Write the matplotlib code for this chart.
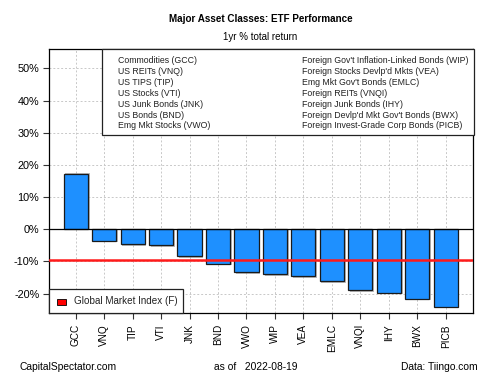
import matplotlib
matplotlib.use("Agg")
import matplotlib.pyplot as plt
import numpy as np

plt.rcParams['font.family'] = ['Liberation Sans', 'DejaVu Sans']

# data
tickers = ['GCC', 'VNQ', 'TIP', 'VTI', 'JNK', 'BND', 'VWO', 'WIP', 'VEA',
           'EMLC', 'VNQI', 'IHY', 'BWX', 'PICB']
returns = [17.1, -3.6, -4.7, -5.0, -8.3, -10.7, -13.3, -14.0, -14.6,
           -16.1, -19.0, -19.7, -21.5, -24.1]
global_index = -9.5

left_names = ['Commodities (GCC)', 'US REITs (VNQ)', 'US TIPS (TIP)',
              'US Stocks (VTI)', 'US Junk Bonds (JNK)', 'US Bonds (BND)',
              'Emg Mkt Stocks (VWO)']
right_names = ["Foreign Gov't Inflation-Linked Bonds (WIP)",
               "Foreign Stocks Devlp'd Mkts (VEA)",
               "Emg Mkt Gov't Bonds (EMLC)",
               "Foreign REITs (VNQI)",
               "Foreign Junk Bonds (IHY)",
               "Foreign Devlp'd Mkt Gov't Bonds (BWX)",
               "Foreign Invest-Grade Corp Bonds (PICB)"]
yticks = [-20, -10, 0, 10, 20, 30, 40, 50]

fig = plt.figure(figsize=(5, 3.75), dpi=100)
ax = fig.add_axes([49 / 500, 1 - 313 / 375, 424 / 500, 264 / 375])

x = np.arange(len(tickers))
# grid behind
for xi in x:
    ax.axvline(xi, color='#c8c8c8', lw=0.7, ls=(0, (2, 2)), zorder=0)
for yt in yticks:
    ax.axhline(yt, color='#c8c8c8', lw=0.7, ls=(0, (2, 2)), zorder=0)

# shadows
vals = np.array(returns)
ax.bar(x + 0.06, vals + np.sign(vals) * 0.5, width=0.85, color='#8c8c8c',
       alpha=0.6, zorder=1, linewidth=0)
ax.bar(x, vals, width=0.85, color='#1e90ff', edgecolor='#1a1a1a',
       linewidth=0.9, zorder=2)
ax.axhline(0, color='black', lw=0.9, zorder=3)
ax.axhline(global_index, color='#ff1a1a', lw=1.8, zorder=4)

ax.set_xlim(-0.94, len(tickers) - 0.04)
ax.set_ylim(-26, 56)
ax.set_yticks(yticks)
ax.set_yticklabels([f'{v}%' for v in yticks], fontsize=7.8)
ax.set_xticks(x)
ax.set_xticklabels(tickers, rotation=90, fontsize=7.2)
ax.tick_params(axis='both', length=4, width=0.8, color='#333333', pad=3)
ax.tick_params(axis='x', pad=4)
for sp in ax.spines.values():
    sp.set_linewidth(0.9)

# top legend box
box_l, box_b = 102 / 500, 1 - 135 / 375
fig.patches.append(plt.Rectangle((box_l, box_b), 473.5 / 500 - box_l,
                                 1 - 49.3 / 375 - box_b, transform=fig.transFigure,
                                 facecolor='white', edgecolor='#222222',
                                 linewidth=0.9, zorder=5))
for i, (ln, rn) in enumerate(zip(left_names, right_names)):
    yy = 1 - (60.5 + i * 10.9) / 375
    fig.text(117.5 / 500, yy, ln, fontsize=6.3, va='center', color='#222222', zorder=6)
    fig.text(302 / 500, yy, rn, fontsize=6.3, va='center', color='#222222', zorder=6)

# bottom legend
fig.patches.append(plt.Rectangle((49.3 / 500, 1 - 313 / 375), 134 / 500,
                                 24 / 375, transform=fig.transFigure,
                                 facecolor='white', edgecolor='#222222',
                                 linewidth=0.9, zorder=5))
fig.patches.append(plt.Rectangle((57 / 500, 1 - 304.5 / 375), 8.5 / 500, 5.5 / 375,
                                 transform=fig.transFigure, facecolor='#ff0000',
                                 edgecolor='black', linewidth=0.6, zorder=6))
fig.text(74 / 500, 1 - 301 / 375, 'Global Market Index (F)', fontsize=7.1,
         va='center', color='#222222', zorder=6)

fig.text(0.522, 1 - 19 / 375, 'Major Asset Classes: ETF Performance', fontsize=7.1,
         fontweight='bold', ha='center', va='center')
fig.text(0.521, 1 - 37 / 375, '1yr % total return', fontsize=7.0,
         ha='center', va='center')
fig.text(20 / 500, 1 - 367 / 375, 'CapitalSpectator.com', fontsize=7.4, va='center')
fig.text(214 / 500, 1 - 367 / 375, 'as of   2022-08-19', fontsize=7.4, va='center')
fig.text(478 / 500, 1 - 367 / 375, 'Data: Tiingo.com', fontsize=7.4, va='center',
         ha='right')

fig.savefig('out.png', dpi=100)
